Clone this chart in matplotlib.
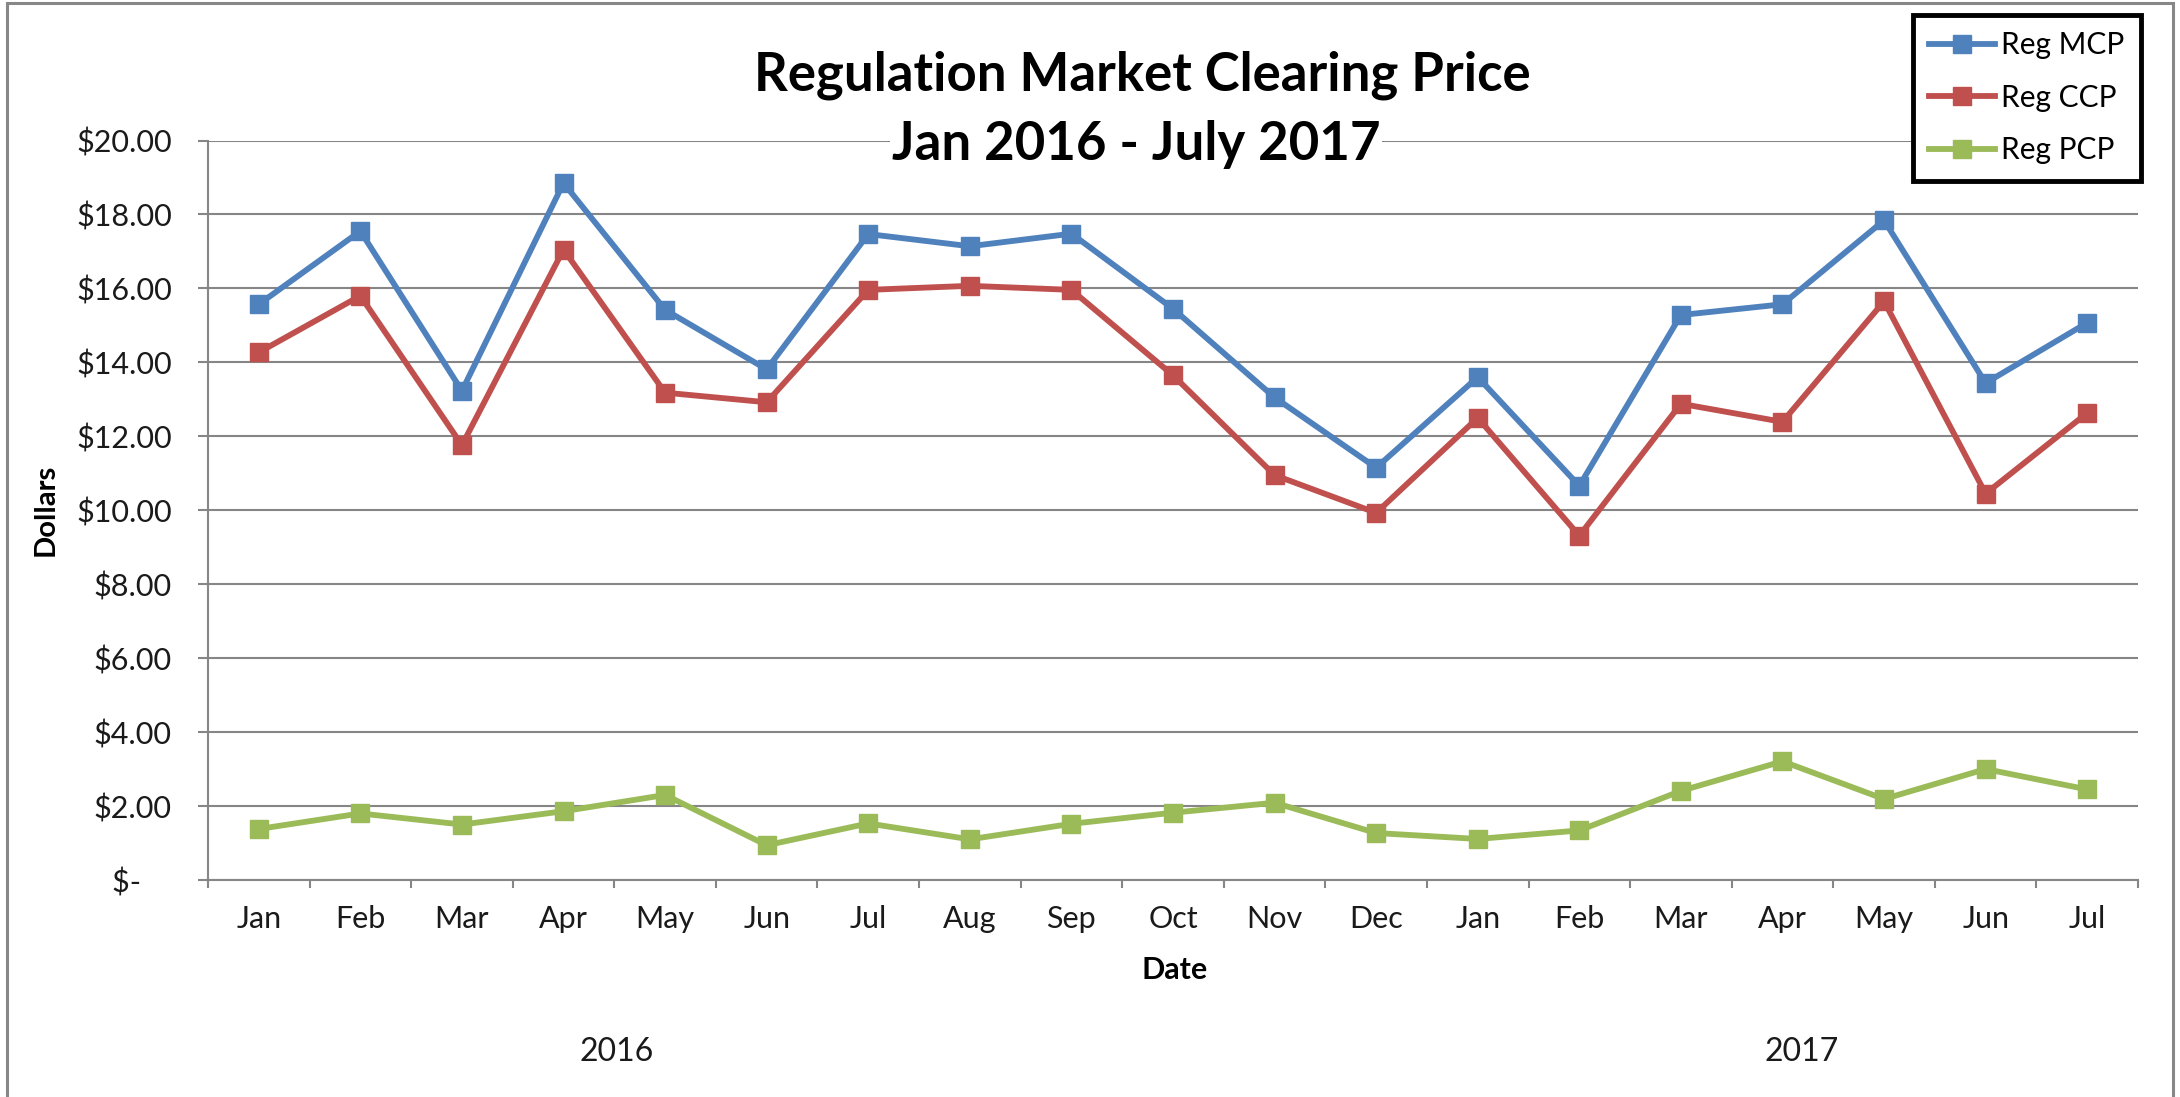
import matplotlib
matplotlib.use("Agg")
import matplotlib.pyplot as plt
from matplotlib.patches import Rectangle
from matplotlib.ticker import FuncFormatter, MultipleLocator

# data
months = ["Jan", "Feb", "Mar", "Apr", "May", "Jun", "Jul", "Aug", "Sep", "Oct", "Nov", "Dec",
          "Jan", "Feb", "Mar", "Apr", "May", "Jun", "Jul"]
reg_mcp = [15.57, 17.55, 13.23, 18.85, 15.42, 13.81, 17.47, 17.14, 17.48, 15.45,
           13.05, 11.15, 13.60, 10.66, 15.28, 15.57, 17.84, 13.44, 15.07]
reg_ccp = [14.27, 15.80, 11.76, 17.05, 13.18, 12.92, 15.96, 16.07, 15.96, 13.65,
           10.95, 9.93, 12.50, 9.31, 12.88, 12.39, 15.65, 10.45, 12.63]
reg_pcp = [1.38, 1.80, 1.50, 1.86, 2.30, 0.94, 1.53, 1.10, 1.52, 1.82,
           2.09, 1.27, 1.11, 1.34, 2.41, 3.21, 2.19, 3.00, 2.45]
series_names = ["Reg MCP", "Reg CCP", "Reg PCP"]
series_colors = ["#4F81BD", "#C0504D", "#9BBB59"]
years = ["2016", "2017"]

plt.rcParams['font.family'] = ['Lato', 'DejaVu Sans']

W, H = 2180, 1097


# pixel -> figure fraction
def fx(px):
    return px / W


def fy(py):
    return 1 - py / H


fig = plt.figure(figsize=(W / 100, H / 100), dpi=100)
ax = fig.add_axes([fx(208), fy(880), fx(2138) - fx(208), fy(140.5) - fy(880)])

x = list(range(len(months)))
for name, vals, col in zip(series_names, [reg_mcp, reg_ccp, reg_pcp], series_colors):
    ax.plot(x, vals, color=col, lw=4.2, marker='s', ms=12.5, label=name, zorder=3, clip_on=False)

ax.set_xlim(-0.5, len(months) - 0.5)
ax.set_ylim(0, 20)
ax.yaxis.set_major_locator(MultipleLocator(2))
ax.yaxis.set_major_formatter(FuncFormatter(lambda v, p: "$-    " if v == 0 else f"${v:,.2f}"))
ax.grid(axis='y', color='#868686', lw=1.5)
ax.set_axisbelow(True)
for s in ['top', 'right']:
    ax.spines[s].set_visible(False)
for s in ['left', 'bottom']:
    ax.spines[s].set_color('#868686')
    ax.spines[s].set_linewidth(1.5)

ax.set_xticks(x)
ax.set_xticklabels(months)
ax.set_xticks([i - 0.5 for i in range(len(months) + 1)], minor=True)
ax.tick_params(axis='x', which='major', length=0, pad=18, labelsize=22, labelcolor='#1a1a1a')
ax.tick_params(axis='x', which='minor', length=6, width=1.5, color='#868686')
ax.tick_params(axis='y', length=7, width=1.5, color='#868686', pad=19, labelsize=22, labelcolor='#1a1a1a')

# title
fig.text(fx(1142), fy(90), "Regulation Market Clearing Price", ha='center', va='baseline',
         fontsize=38, fontweight='bold')
fig.text(fx(1136), fy(160), "Jan 2016 - July 2017", ha='center', va='baseline',
         fontsize=38, fontweight='bold',
         bbox=dict(facecolor='white', edgecolor='none', pad=1))

# axis titles
fig.text(fx(46), fy(510), "Dollars", rotation=90, ha='center', va='center',
         fontsize=21, fontweight='bold')
fig.text(fx(1175), fy(970), "Date", ha='center', va='center', fontsize=22, fontweight='bold')

# year labels
fig.text(fx(617), fy(1052), years[0], ha='center', va='center', fontsize=23, color='#1a1a1a')
fig.text(fx(1802), fy(1052), years[1], ha='center', va='center', fontsize=23, color='#1a1a1a')

leg = fig.legend(loc='upper left', bbox_to_anchor=(fx(1913), fy(15)), fontsize=21.5,
                 frameon=True, fancybox=False, edgecolor='black', framealpha=1,
                 handlelength=2.2, handletextpad=0.2, labelspacing=0.82,
                 borderpad=0.55, borderaxespad=0)
leg.get_frame().set_linewidth(3.5)

# outer chart border
fig.add_artist(Rectangle((fx(7), fy(1120)), fx(2173) - fx(7), fy(3) - fy(1120),
                         transform=fig.transFigure, fill=False, edgecolor='#878787', lw=2.2))

fig.savefig("out.png", dpi=100)
